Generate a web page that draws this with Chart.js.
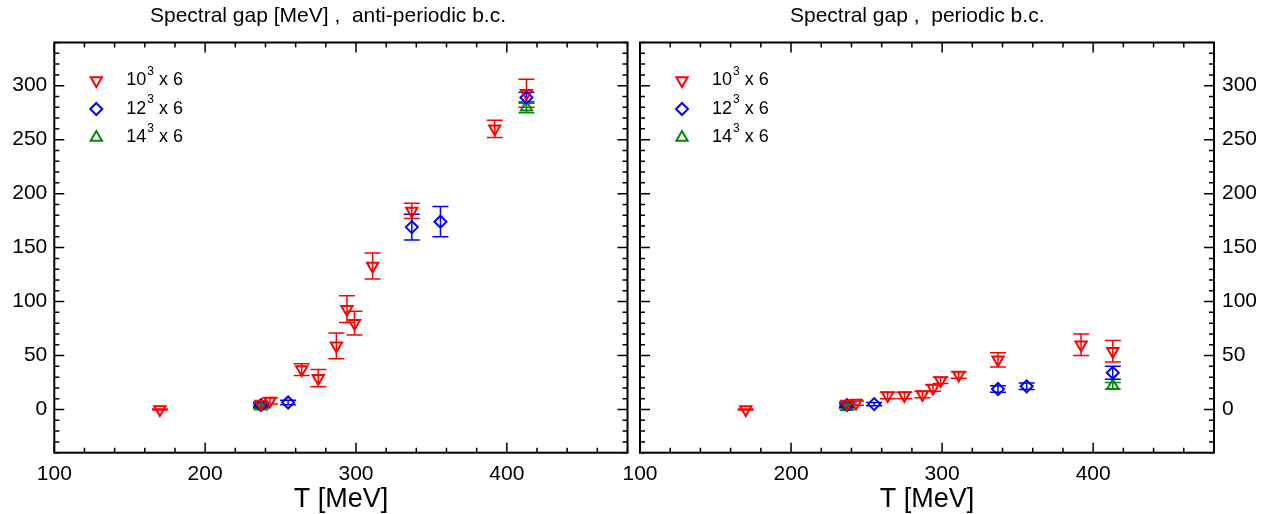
<!DOCTYPE html>
<html>
<head>
<meta charset="utf-8">
<script src="https://cdn.jsdelivr.net/npm/chart.js@4.4.1/dist/chart.umd.min.js"></script>
<style>
  html, body { margin: 0; padding: 0; background: #fff; }
  #wrap { position: relative; width: 1273px; height: 514px; overflow: hidden; }
  #left { position: absolute; left: 0; top: 0; }
  #right { position: absolute; left: 590px; top: 0; }
</style>
</head>
<body>
<div id="wrap">
  <canvas id="left" width="636" height="514"></canvas>
  <canvas id="right" width="683" height="514"></canvas>
</div>
<script>
// temperatures [MeV] per lattice
const tempsRed = [170, 237, 243, 264, 275, 287, 294, 299, 311, 337, 392, 413];
const tempsBlue = [237, 255, 337, 356, 413];
const tempsGreen = [237, 413];

// anti-periodic b.c.
const apRed = [0, 5, 8, 37, 29, 59, 93, 80, 133, 184, 260, 293];
const apRedErr = [0.5, 2, 3, 5.5, 8, 12, 12.5, 11, 12, 7, 8, 13];
const apBlue = [4, 6.5, 169, 174, 289];
const apBlueErr = [2, 2, 12, 14, 5];
const apGreen = [3, 280];
const apGreenErr = [2, 5];

// periodic b.c.
const pRed = [0, 5, 6, 13, 13, 14, 20, 27, 32, 46, 60, 54];
const pRedErr = [0.5, 2, 2, 3, 3, 3, 3, 3, 3, 6.5, 10, 10];
const pBlue = [4, 5, 19, 21.5, 34];
const pBlueErr = [2, 1.5, 3, 3, 6];
const pGreen = [2.5, 22];
const pGreenErr = [2, 3];

const volumes = ['10', '12', '14'];
const xTickValues = [100, 200, 300, 400];
const yTickValues = [0, 50, 100, 150, 200, 250, 300];

const FONT = '"Liberation Sans", Arial, Helvetica, sans-serif';

const styles = [
    { color: '#ff0000', pointStyle: 'triangle', rotation: 180, radius: 6.5 },
    { color: '#0000ff', pointStyle: 'rectRot', rotation: 0, radius: 6 },
    { color: '#008b00', pointStyle: 'triangle', rotation: 0, radius: 6.5 }
];

function points(xs, ys, errs) {
    return xs.map((x, i) => ({ x: x, y: ys[i], err: errs[i] }));
}

function marker(ctx, st, x, y) {
    ctx.beginPath();
    if (st.pointStyle === 'rectRot') {
        ctx.moveTo(x, y - st.radius);
        ctx.lineTo(x + st.radius, y);
        ctx.lineTo(x, y + st.radius);
        ctx.lineTo(x - st.radius, y);
    } else {
        let rad = st.rotation * Math.PI / 180;
        ctx.moveTo(x + Math.sin(rad) * st.radius, y - Math.cos(rad) * st.radius);
        for (let k = 0; k < 2; k++) {
            rad += 2 * Math.PI / 3;
            ctx.lineTo(x + Math.sin(rad) * st.radius, y - Math.cos(rad) * st.radius);
        }
    }
    ctx.closePath();
    ctx.stroke();
}

const errorBars = {
    id: 'errorBars',
    beforeDatasetsDraw(chart) {
        const { ctx, scales: { x, y } } = chart;
        ctx.save();
        ctx.lineWidth = 1.5;
        chart.data.datasets.forEach((ds) => {
            ctx.strokeStyle = ds.borderColor;
            ctx.beginPath();
            ds.data.forEach((p) => {
                const px = x.getPixelForValue(p.x);
                const top = y.getPixelForValue(p.y + p.err);
                const bot = y.getPixelForValue(p.y - p.err);
                ctx.moveTo(px, top); ctx.lineTo(px, bot);
                ctx.moveTo(px - 8, top); ctx.lineTo(px + 8, top);
                ctx.moveTo(px - 8, bot); ctx.lineTo(px + 8, bot);
            });
            ctx.stroke();
        });
        ctx.restore();
    }
};

const frame = {
    id: 'frame',
    afterDraw(chart, args, opts) {
        const { ctx, chartArea: a, scales: { x, y } } = chart;
        ctx.save();
        ctx.strokeStyle = '#000';
        ctx.lineWidth = 1.5;
        ctx.beginPath();
        for (let t = 100; t <= 480; t += 20) {
            const px = x.getPixelForValue(t);
            const len = t % 100 === 0 ? 10 : 5;
            ctx.moveTo(px, a.bottom); ctx.lineTo(px, a.bottom - len);
            ctx.moveTo(px, a.top); ctx.lineTo(px, a.top + len);
        }
        for (let v = -40; v <= 340; v += 10) {
            const py = y.getPixelForValue(v);
            const len = v % 50 === 0 ? 10 : 5;
            ctx.moveTo(a.left, py); ctx.lineTo(a.left + len, py);
            ctx.moveTo(a.right, py); ctx.lineTo(a.right - len, py);
        }
        ctx.stroke();
        ctx.lineWidth = 2;
        ctx.strokeRect(a.left, a.top, a.right - a.left, a.bottom - a.top);

        // titles
        ctx.fillStyle = '#000';
        ctx.textBaseline = 'alphabetic';
        ctx.textAlign = 'left';
        ctx.font = '21px ' + FONT;
        ctx.fillText(opts.title, opts.titleX, 22);
        ctx.textAlign = 'center';
        ctx.font = '27px ' + FONT;
        ctx.fillText('T [MeV]', (a.left + a.right) / 2, 507);

        // legend
        ctx.lineWidth = 2;
        ctx.textAlign = 'left';
        ctx.textBaseline = 'middle';
        volumes.forEach((v, i) => {
            const st = styles[i];
            const ly = a.top + 38 + i * 28.5;
            ctx.strokeStyle = st.color;
            marker(ctx, st, a.left + 42, ly);
            ctx.fillStyle = '#000';
            let tx = a.left + 72;
            ctx.font = '18px ' + FONT;
            ctx.fillText(v, tx, ly);
            tx += ctx.measureText(v).width;
            ctx.font = '12px ' + FONT;
            ctx.fillText('3', tx + 1, ly - 9);
            tx += ctx.measureText('3').width + 1;
            ctx.font = '18px ' + FONT;
            ctx.fillText(' x 6', tx, ly);
        });
        ctx.restore();
    }
};

function makeChart(id, series, side, title, titleX) {
    const datasets = series.map((pts, i) => ({
        data: pts,
        borderColor: styles[i].color,
        backgroundColor: 'rgba(0,0,0,0)',
        pointStyle: styles[i].pointStyle,
        rotation: styles[i].rotation,
        pointRadius: styles[i].radius,
        pointBorderWidth: 2,
        showLine: false
    }));
    return new Chart(document.getElementById(id), {
        type: 'scatter',
        data: { datasets: datasets },
        options: {
            responsive: false,
            animation: false,
            events: [],
            layout: {
                padding: side === 'left'
                    ? { top: 42.5, right: 7, left: 0, bottom: 0 }
                    : { top: 42.5, right: 0, left: 50, bottom: 0 }
            },
            scales: {
                x: {
                    type: 'linear',
                    min: 100,
                    max: 480,
                    grid: { display: false, drawTicks: false },
                    border: { display: false },
                    ticks: { color: '#000', padding: 9, maxRotation: 0, font: { size: 21, family: FONT } },
                    afterBuildTicks: (s) => { s.ticks = xTickValues.map((v) => ({ value: v })); },
                    afterFit: (s) => { s.height = 61.3; s.paddingLeft = 0; s.paddingRight = 0; }
                },
                y: {
                    type: 'linear',
                    position: side,
                    min: -40,
                    max: 340,
                    grid: { display: false, drawTicks: false },
                    border: { display: false },
                    ticks: { color: '#000', padding: side === 'left' ? 7 : 8, font: { size: 21, family: FONT } },
                    afterBuildTicks: (s) => { s.ticks = yTickValues.map((v) => ({ value: v })); },
                    afterFit: (s) => { s.width = side === 'left' ? 54.3 : 59; s.paddingTop = 0; s.paddingBottom = 0; }
                }
            },
            plugins: {
                legend: { display: false },
                tooltip: { enabled: false },
                frame: { title: title, titleX: titleX }
            }
        },
        plugins: [errorBars, frame]
    });
}

makeChart('left', [
    points(tempsRed, apRed, apRedErr),
    points(tempsBlue, apBlue, apBlueErr),
    points(tempsGreen, apGreen, apGreenErr)
], 'left', 'Spectral gap [MeV] ,  anti-periodic b.c.', 150);

makeChart('right', [
    points(tempsRed, pRed, pRedErr),
    points(tempsBlue, pBlue, pBlueErr),
    points(tempsGreen, pGreen, pGreenErr)
], 'right', 'Spectral gap ,  periodic b.c.', 200);
</script>
</body>
</html>
